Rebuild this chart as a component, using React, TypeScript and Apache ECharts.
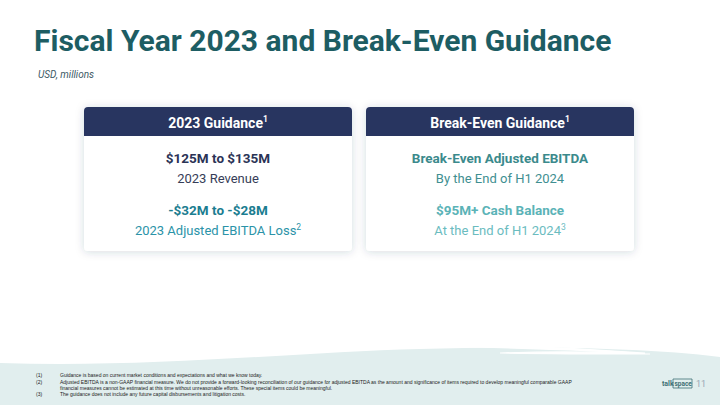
import React, { useEffect, useRef } from "react";
import * as echarts from "echarts";

const titleText = "Fiscal Year 2023 and Break-Even Guidance";
const subtitleText = "USD, millions";

const cardTitles = ["2023 Guidance", "Break-Even Guidance"];
const cardTitleSups = ["1", "1"];
const cardHeadlines = [
  ["$125M to $135M", "-$32M to -$28M"],
  ["Break-Even Adjusted EBITDA", "$95M+ Cash Balance"],
];
const cardDetails = [
  ["2023 Revenue", "2023 Adjusted EBITDA Loss"],
  ["By the End of H1 2024", "At the End of H1 2024"],
];
const cardDetailSups = [
  ["", "2"],
  ["", "3"],
];

const footnoteMarks = ["(1)", "(2)", "", "(3)"];
const footnoteLines = [
  "Guidance is based on current market conditions and expectations and what we know today.",
  "Adjusted EBITDA is a non-GAAP financial measure. We do not provide a forward-looking reconciliation of our guidance for adjusted EBITDA as the amount and significance of items required to develop meaningful comparable GAAP",
  "financial measures cannot be estimated at this time without unreasonable efforts. These special items could be meaningful.",
  "The guidance does not include any future capital disbursements and litigation costs.",
];
const pageNumber = "11";

const headColors = [
  ["#2b3356", "#1b7d90"],
  ["#3b8a8c", "#5bb3b7"],
];
const detailColors = [
  ["#363d58", "#2b93a8"],
  ["#3f8f91", "#6bbcbf"],
];

echarts.graphic.registerShape(
  "wave",
  echarts.graphic.extendPath(
    "M0,363 C150,368 300,352 420,349 C520,346 640,347 720,357 L720,405 L0,405 Z",
    {}
  )
);
echarts.graphic.registerShape(
  "swoosh",
  echarts.graphic.extendPath(
    "M385,344 C470,344 560,347 645,353 C560,349 470,347 385,344 Z M500,353 C560,351 610,352 650,354 C600,354 550,354 500,353 Z",
    {}
  )
);

export default function App() {
  const ref = useRef<HTMLDivElement>(null);
  useEffect(() => {
    const chart = echarts.init(ref.current!, null, { renderer: "svg" });
    const font = "Roboto";
    const elements: any[] = [];

    elements.push({ type: "wave", x: 0, y: 0, style: { fill: "#e1eeee" }, z: 0 });
    elements.push({ type: "swoosh", x: 0, y: 0, style: { fill: "#ffffff", stroke: "#ffffff", lineWidth: 1.2 }, z: 1 });

    elements.push({
      type: "text",
      left: 34,
      top: 25,
      style: { text: titleText, font: `bold 30px ${font}`, fill: "#1d5d63" },
    });
    elements.push({
      type: "text",
      left: 38,
      top: 69,
      style: { text: subtitleText, font: `italic 10px ${font}`, fill: "#3d5a66" },
    });

    const cardX = [84, 366];
    const cardW = 268;
    const cardY = 107;
    const cardH = 144;
    const headH = 29;

    cardTitles.forEach((t, i) => {
      const cx = cardX[i] + cardW / 2;
      elements.push({
        type: "rect",
        shape: { x: cardX[i], y: cardY, width: cardW, height: cardH, r: 4 },
        style: { fill: "#ffffff", shadowBlur: 8, shadowColor: "rgba(40,60,80,0.18)", shadowOffsetY: 1 },
        z: 2,
      });
      elements.push({
        type: "rect",
        shape: { x: cardX[i], y: cardY, width: cardW, height: headH, r: [4, 4, 0, 0] },
        style: { fill: "#283560" },
        z: 3,
      });
      elements.push({
        type: "text",
        x: cx,
        y: cardY + headH / 2 + 1,
        z: 4,
        style: {
          text: `{m|${t}}{s|${cardTitleSups[i]}}`,
          align: "center",
          verticalAlign: "middle",
          rich: {
            m: { font: `bold 14px ${font}`, fill: "#ffffff", lineHeight: 17 },
            s: { font: `bold 8.5px ${font}`, fill: "#ffffff", lineHeight: 10, verticalAlign: "top" },
          },
        },
      });
      const rowY = [158, 210];
      cardHeadlines[i].forEach((h, j) => {
        elements.push({
          type: "text",
          x: cx,
          y: rowY[j],
          z: 4,
          style: {
            text: h,
            font: `bold 13.5px ${font}`,
            fill: headColors[i][j],
            align: "center",
            verticalAlign: "middle",
          },
        });
        const sup = cardDetailSups[i][j];
        elements.push({
          type: "text",
          x: cx,
          y: rowY[j] + 20,
          z: 4,
          style: {
            text: sup ? `{m|${cardDetails[i][j]}}{s|${sup}}` : `{m|${cardDetails[i][j]}}`,
            align: "center",
            verticalAlign: "middle",
            rich: {
              m: { font: `13px ${font}`, fill: detailColors[i][j], lineHeight: 16 },
              s: { font: `8.5px ${font}`, fill: detailColors[i][j], lineHeight: 10, verticalAlign: "top" },
            },
          },
        });
      });
    });

    const footY = [375, 381.5, 387.5, 394];
    footnoteLines.forEach((l, k) => {
      if (footnoteMarks[k]) {
        elements.push({
          type: "text",
          x: 36,
          y: footY[k],
          z: 4,
          style: { text: footnoteMarks[k], font: `5px "Liberation Sans"`, fill: "#222222", verticalAlign: "middle" },
        });
      }
      elements.push({
        type: "text",
        x: 60,
        y: footY[k],
        z: 4,
        style: { text: l, font: `5px "Liberation Sans"`, fill: "#222222", verticalAlign: "middle" },
      });
    });

    // logo
    elements.push({
      type: "text",
      x: 662,
      y: 384,
      z: 4,
      style: { text: "talk", font: `bold 7px ${font}`, fill: "#3d6f73", verticalAlign: "middle" },
    });
    elements.push({
      type: "rect",
      shape: { x: 673, y: 379, width: 19, height: 9 },
      style: { fill: "none", stroke: "#3d6f73", lineWidth: 0.8 },
      z: 4,
    });
    elements.push({
      type: "text",
      x: 674.5,
      y: 384,
      z: 4,
      style: { text: "space", font: `bold 6.5px ${font}`, fill: "#3d6f73", verticalAlign: "middle" },
    });
    elements.push({
      type: "text",
      x: 696,
      y: 384,
      z: 4,
      style: { text: pageNumber, font: `9px ${font}`, fill: "#9aa7b4", verticalAlign: "middle" },
    });

    chart.setOption({
      animation: false,
      backgroundColor: "#ffffff",
      graphic: { elements },
    });
    return () => chart.dispose();
  }, []);
  return (
    <div
      ref={ref}
      style={{ position: "fixed", left: 0, top: 0, width: 720, height: 405 }}
    />
  );
}
